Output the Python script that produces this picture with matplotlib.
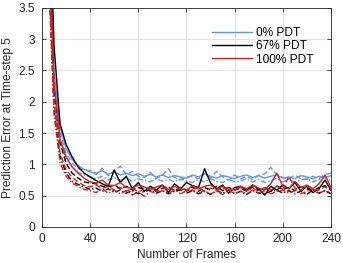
import numpy as np
import matplotlib
matplotlib.use("Agg")
import matplotlib.pyplot as plt

plt.rcParams['font.family'] = ['Liberation Sans', 'DejaVu Sans']

frames = np.arange(5, 245, 5)

b1 = [5.5, 2.5, 1.60, 1.25, 1.08, 0.98, 0.92, 0.88,
      0.86, 0.90, 0.84, 0.88, 0.83, 0.86, 0.82, 0.85,
      0.81, 0.84, 0.80, 0.83, 0.79, 0.82, 0.80, 0.78,
      0.83, 0.80, 0.85, 0.81, 0.78, 0.82, 0.80, 0.77,
      0.81, 0.83, 0.79, 0.82, 0.78, 0.81, 0.83, 0.78,
      0.80, 0.77, 0.82, 0.80, 0.77, 0.81, 0.79, 0.82]
b2 = [5.0, 2.3, 1.50, 1.18, 1.02, 0.93, 0.91, 0.90,
      0.84, 0.94, 0.82, 0.89, 0.97, 0.83, 0.89, 0.81,
      0.79, 0.87, 0.77, 0.83, 0.93, 0.79, 0.75, 0.80,
      0.81, 0.77, 0.86, 0.78, 0.89, 0.80, 0.75, 0.83,
      0.77, 0.81, 0.76, 0.83, 0.85, 0.95, 0.84, 0.79,
      0.77, 0.83, 0.77, 0.76, 0.81, 0.77, 0.84, 0.86]
b3 = [4.8, 2.1, 1.40, 1.10, 0.96, 0.87, 0.83, 0.80,
      0.77, 0.81, 0.75, 0.79, 0.74, 0.78, 0.73, 0.77,
      0.75, 0.72, 0.77, 0.73, 0.76, 0.72, 0.77, 0.74,
      0.71, 0.76, 0.72, 0.77, 0.73, 0.71, 0.76, 0.72,
      0.74, 0.77, 0.72, 0.76, 0.71, 0.74, 0.78, 0.72,
      0.76, 0.71, 0.75, 0.77, 0.72, 0.76, 0.79, 0.74]
k1 = [6.0, 2.9, 1.65, 1.32, 1.12, 0.96, 0.86, 0.80,
      0.74, 0.69, 0.65, 0.91, 0.71, 0.81, 0.61, 0.71,
      0.57, 0.65, 0.59, 0.67, 0.55, 0.69, 0.61, 0.71,
      0.66, 0.63, 0.93, 0.70, 0.61, 0.67, 0.54, 0.63,
      0.65, 0.59, 0.67, 0.61, 0.51, 0.65, 0.59, 0.67,
      0.61, 0.71, 0.57, 0.65, 0.55, 0.61, 0.75, 0.59]
k2 = [5.0, 2.2, 1.35, 1.02, 0.86, 0.78, 0.72, 0.70,
      0.69, 0.65, 0.64, 0.67, 0.61, 0.65, 0.59, 0.63,
      0.60, 0.63, 0.57, 0.62, 0.64, 0.58, 0.63, 0.59,
      0.64, 0.57, 0.63, 0.59, 0.65, 0.58, 0.63, 0.59,
      0.62, 0.57, 0.64, 0.59, 0.63, 0.57, 0.66, 0.60,
      0.63, 0.58, 0.64, 0.61, 0.57, 0.63, 0.66, 0.59]
k3 = [4.5, 1.9, 1.12, 0.86, 0.73, 0.68, 0.64, 0.60,
      0.62, 0.57, 0.61, 0.55, 0.59, 0.54, 0.58, 0.53,
      0.57, 0.59, 0.54, 0.58, 0.53, 0.57, 0.59, 0.54,
      0.58, 0.53, 0.57, 0.52, 0.58, 0.54, 0.59, 0.53,
      0.57, 0.52, 0.58, 0.54, 0.53, 0.57, 0.59, 0.54,
      0.58, 0.53, 0.57, 0.52, 0.59, 0.54, 0.58, 0.53]
r1 = [5.0, 2.3, 1.40, 1.12, 0.96, 0.86, 0.78, 0.72,
      0.70, 0.75, 0.67, 0.66, 0.71, 0.63, 0.62, 0.67,
      0.64, 0.59, 0.64, 0.67, 0.60, 0.65, 0.61, 0.59,
      0.66, 0.61, 0.65, 0.67, 0.60, 0.65, 0.61, 0.59,
      0.65, 0.61, 0.67, 0.62, 0.59, 0.69, 0.86, 0.65,
      0.61, 0.73, 0.63, 0.67, 0.61, 0.69, 0.83, 0.63]
r2 = [4.5, 2.0, 1.18, 0.92, 0.79, 0.72, 0.66, 0.64,
      0.67, 0.61, 0.65, 0.59, 0.63, 0.57, 0.62, 0.56,
      0.61, 0.63, 0.57, 0.61, 0.63, 0.58, 0.62, 0.57,
      0.61, 0.63, 0.57, 0.62, 0.58, 0.63, 0.57, 0.61,
      0.63, 0.58, 0.62, 0.57, 0.63, 0.59, 0.65, 0.60,
      0.81, 0.62, 0.59, 0.65, 0.60, 0.59, 0.64, 0.59]
r3 = [4.2, 1.8, 1.02, 0.81, 0.70, 0.65, 0.60, 0.58,
      0.55, 0.61, 0.54, 0.59, 0.53, 0.58, 0.51, 0.56,
      0.49, 0.57, 0.53, 0.58, 0.54, 0.59, 0.53, 0.57,
      0.59, 0.54, 0.58, 0.53, 0.57, 0.52, 0.58, 0.54,
      0.57, 0.53, 0.59, 0.54, 0.58, 0.53, 0.57, 0.59,
      0.54, 0.58, 0.53, 0.57, 0.60, 0.54, 0.58, 0.55]

labels = ['0% PDT', '67% PDT', '100% PDT']
colors = ['#6495EA', '#000000', '#D81E1E']
groups = [(b1, b2, b3), (k1, k2, k3), (r1, r2, r3)]
styles = ['-', (0, (4, 2)), (0, (4, 1.5, 1, 1.5))]

fs = 8.6
fig = plt.figure(figsize=(3.43, 2.63), dpi=100)
ax = fig.add_axes([0.1224, 0.137, 0.8426, 0.833])

handles = []
for lab, col, grp in zip(labels, colors, groups):
    for i, (ser, ls) in enumerate(zip(grp, styles)):
        ln, = ax.plot(frames, ser, color=col, ls=ls, lw=1.0)
        if i == 0:
            handles.append(ln)

ax.set_xlim(0, 240)
ax.set_ylim(0, 3.5)
ax.set_xticks(np.arange(0, 241, 40))
ax.set_yticks(np.arange(0, 3.51, 0.5))
ax.set_yticklabels(['0', '0.5', '1', '1.5', '2', '2.5', '3', '3.5'])
ax.grid(True, color='#E3E3E3', lw=0.8)
ax.set_axisbelow(True)
ax.tick_params(direction='in', top=True, right=True, labelsize=fs,
               colors='#262626', length=3, width=0.6)
ax.tick_params(axis='x', pad=4.5)
ax.tick_params(axis='y', pad=5)
for s in ax.spines.values():
    s.set_color('#262626')
    s.set_linewidth(0.6)
ax.set_xlabel('Number of Frames', fontsize=fs, color='#262626', labelpad=2.5)
ax.set_ylabel('Prediction Error at Time-step 5', fontsize=fs, color='#262626', labelpad=3)

ax.legend(handles, labels, frameon=False, fontsize=fs, handlelength=3.3,
          handletextpad=0.4, labelspacing=0.1, loc='upper right',
          bbox_to_anchor=(0.97, 0.95), borderaxespad=0.3)

fig.savefig('out.png', dpi=100)
